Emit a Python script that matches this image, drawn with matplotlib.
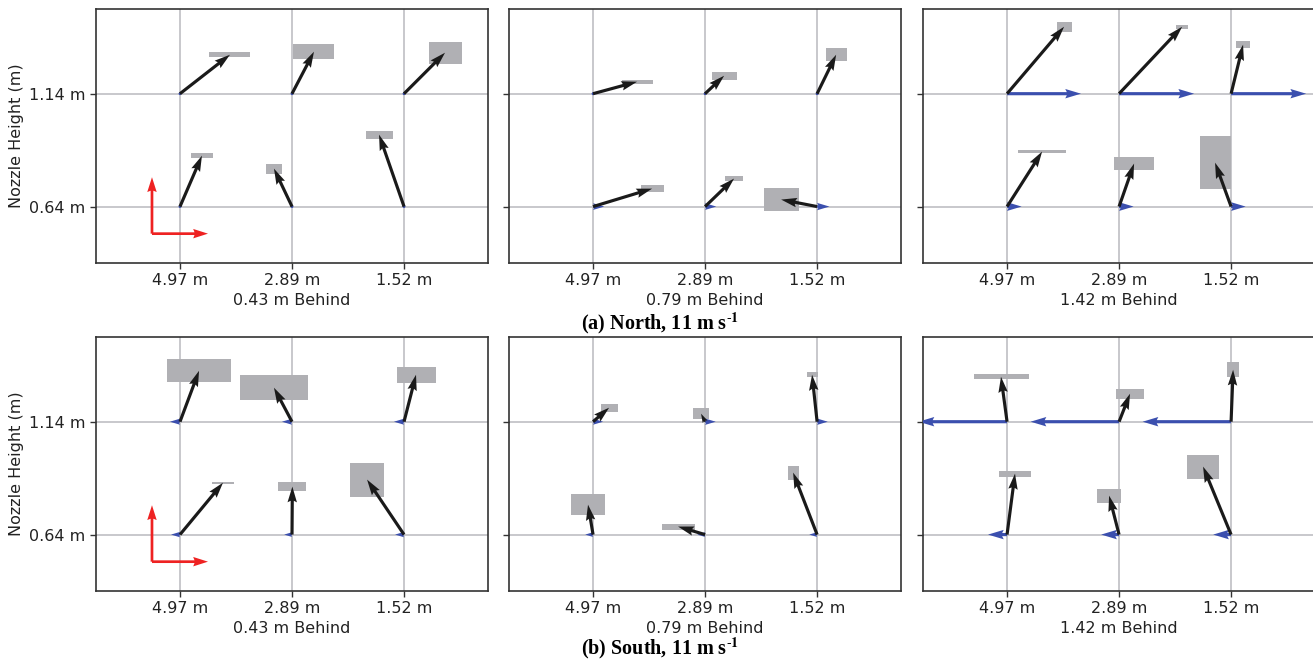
import numpy as np
import matplotlib.pyplot as plt
from matplotlib.patches import Rectangle

plt.rcParams['mathtext.fontset'] = 'stix'

# nozzle positions along the boom and the two nozzle heights
x_labels = ['4.97 m', '2.89 m', '1.52 m']
y_labels = ['0.64 m', '1.14 m']
behind = ['0.43 m Behind', '0.79 m Behind', '1.42 m Behind']
titles = [r'(a) North, 11 m s$^{\mathbf{\text{-}1}}$', r'(b) South, 11 m s$^{\mathbf{\text{-}1}}$']

# order within each panel: top row (1.14 m) x0,x1,x2 then bottom row (0.64 m) x0,x1,x2
# panels: a1, a2, a3, b1, b2, b3
u_vals = [
    [0.446, 0.196, 0.366, 0.196, -0.161, -0.223],
    [0.393, 0.170, 0.170, 0.527, 0.259, -0.321],
    [0.509, 0.563, 0.107, 0.313, 0.134, -0.143],
    [0.170, -0.161, 0.107, 0.384, 0.003, -0.330],
    [0.143, -0.036, -0.045, -0.045, -0.241, -0.214],
    [-0.054, 0.098, 0.018, 0.071, -0.089, -0.250],
]
v_vals = [
    [0.345, 0.372, 0.363, 0.451, 0.336, 0.637],
    [0.106, 0.159, 0.345, 0.159, 0.248, 0.062],
    [0.593, 0.593, 0.434, 0.487, 0.381, 0.389],
    [0.451, 0.301, 0.416, 0.460, 0.425, 0.487],
    [0.124, 0.071, 0.416, 0.265, 0.071, 0.549],
    [0.398, 0.248, 0.460, 0.540, 0.345, 0.602],
]
# uncertainty box sizes around the tip
box_w = [
    [0.366, 0.366, 0.295, 0.196, 0.143, 0.241],
    [0.277, 0.223, 0.188, 0.205, 0.161, 0.313],
    [0.134, 0.107, 0.125, 0.429, 0.357, 0.277],
    [0.571, 0.607, 0.348, 0.196, 0.250, 0.304],
    [0.152, 0.143, 0.098, 0.304, 0.295, 0.098],
    [0.491, 0.250, 0.107, 0.286, 0.214, 0.286],
]
box_h = [
    [0.044, 0.133, 0.195, 0.044, 0.088, 0.071],
    [0.035, 0.071, 0.115, 0.062, 0.044, 0.204],
    [0.088, 0.035, 0.062, 0.027, 0.115, 0.469],
    [0.204, 0.221, 0.142, 0.015, 0.080, 0.301],
    [0.071, 0.097, 0.044, 0.186, 0.053, 0.124],
    [0.044, 0.088, 0.133, 0.053, 0.124, 0.212],
]
# third (horizontal) component, blue arrows
w_vals = [
    [0.0, 0.0, 0.0, 0.0, 0.0, 0.0],
    [0.0, 0.0, 0.0, 0.10, 0.10, 0.11],
    [0.66, 0.67, 0.67, 0.13, 0.13, 0.13],
    [-0.09, -0.09, -0.09, -0.08, -0.07, -0.08],
    [0.09, 0.095, 0.095, -0.07, -0.07, -0.07],
    [-0.79, -0.79, -0.79, -0.17, -0.16, -0.16],
]

xs = np.array([0, 1, 2, 0, 1, 2])
ys = np.array([1, 1, 1, 0, 0, 0])

fig = plt.figure(figsize=(13.13, 6.64), dpi=100)

lefts = [0.0731, 0.3877, 0.7030]
bottoms = [0.6039, 0.1099]
aw, ah = 0.2986, 0.3825

for p in range(6):
    row, col = p // 3, p % 3
    ax = fig.add_axes([lefts[col], bottoms[row], aw, ah])
    ax.set_xlim(-0.75, 2.75)
    ax.set_ylim(-0.5, 1.75)
    ax.set_xticks([0, 1, 2])
    ax.set_xticklabels(x_labels, fontsize=11.5, color='#222222')
    ax.set_yticks([0, 1])
    if col == 0:
        ax.set_yticklabels(y_labels, fontsize=11.5, color='#222222')
        ax.set_ylabel('Nozzle Height (m)', fontsize=11.5, color='#222222')
    else:
        ax.set_yticklabels([])
    ax.set_xlabel(behind[col], fontsize=11.5, color='#222222', labelpad=3)
    ax.grid(True, color='#c4c4c8', linewidth=1.3)
    ax.set_axisbelow(True)
    for s in ax.spines.values():
        s.set_linewidth(1.2)
        s.set_color('#333333')
    ax.tick_params(length=4, width=1.0, color='#333333')

    u = np.array(u_vals[p])
    v = np.array(v_vals[p])
    for i in range(6):
        ax.add_patch(Rectangle((xs[i] + u[i] - box_w[p][i] / 2, ys[i] + v[i] - box_h[p][i] / 2),
                               box_w[p][i], box_h[p][i], facecolor='#b0b0b4',
                               edgecolor='none', zorder=2))
    ax.quiver(xs, ys, w_vals[p], np.zeros(6), color='#3b4fae', units='xy',
              angles='xy', scale_units='xy', scale=1, width=0.028, zorder=3)
    ax.quiver(xs, ys, u, v, color='#1a1a1a', units='xy',
              angles='xy', scale_units='xy', scale=1, width=0.028, zorder=4)

    if col == 0:
        ax.quiver([-0.25, -0.25], [-0.24, -0.24], [0.0, 0.5], [0.5, 0.0],
                  color='#ee2222', units='xy', angles='xy', scale_units='xy',
                  scale=1, width=0.024, headwidth=3.5, headlength=5.5, headaxislength=5,
                  zorder=4)

fig.text(660 / 1313, 1 - 323 / 664, titles[0], ha='center', va='center',
         fontsize=14.5, fontweight='bold', family='Liberation Serif')
fig.text(660 / 1313, 1 - 648 / 664, titles[1], ha='center', va='center',
         fontsize=14.5, fontweight='bold', family='Liberation Serif')

plt.savefig('out.png', dpi=100)
